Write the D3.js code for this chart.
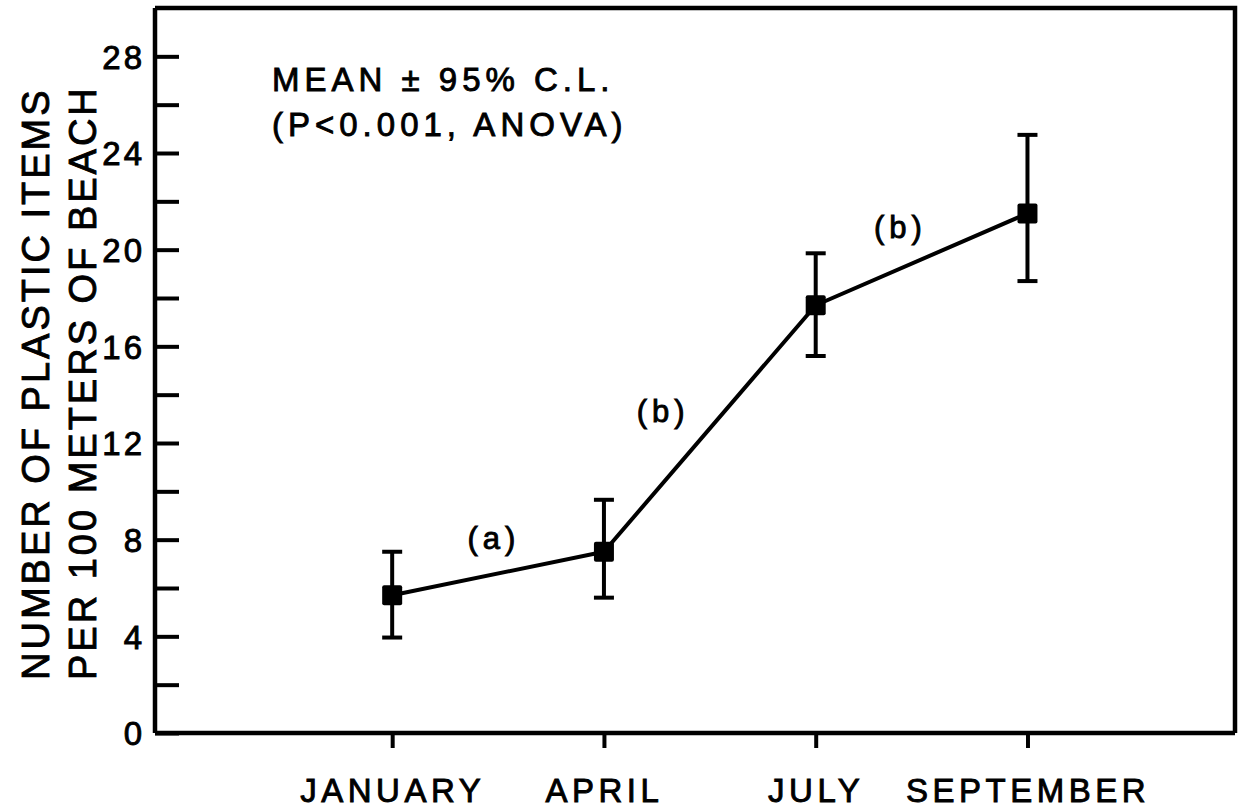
<!DOCTYPE html>
<html>
<head>
<meta charset="utf-8">
<script src="https://cdn.jsdelivr.net/npm/d3@7"></script>
<style>
  html, body { margin: 0; padding: 0; background: #fff; }
  svg { display: block; }
  text { font-family: "Liberation Sans", Arial, Helvetica, sans-serif; fill: #000; stroke: #000; stroke-width: 0.9px; }
</style>
</head>
<body>
<svg id="chart" width="1239" height="811"></svg>
<script>
// ---- data ----
const months = ["JANUARY", "APRIL", "JULY", "SEPTEMBER"];
const meanValues = [5.7, 7.5, 17.7, 21.5];
const lowerCL = [3.95, 5.6, 15.6, 18.7];
const upperCL = [7.5, 9.65, 19.85, 24.75];
const yMajorTicks = [0, 4, 8, 12, 16, 20, 24, 28];
const yMinorTicks = [2, 6, 10, 14, 18, 22, 26];
const groupLabels = ["(a)", "(b)", "(b)"];
const groupLabelX = [0.48, 1.28, 2.40];   // in month-index units
const groupLabelY = [7.6, 12.85, 20.5];   // in data units
const legendLines = ["MEAN \u00B1 95% C.L.", "(P<0.001, ANOVA)"];
const yTitleLines = ["NUMBER OF PLASTIC ITEMS", "PER 100 METERS OF BEACH"];

// ---- layout ----
const plotL = 155, plotR = 1235, plotT = 8, plotB = 733;
const svg = d3.select("#chart");

const x = d3.scaleLinear().domain([-1.12, 3.98]).range([plotL, plotR]);
const y = d3.scaleLinear().domain([0, 30]).range([plotB, plotT]);

// frame (top & right)
svg.append("path")
  .attr("d", `M${plotL},${plotT}H${plotR}V${plotB}`)
  .attr("fill", "none").attr("stroke", "#000").attr("stroke-width", 4.5);

// y axis
const yAxis = d3.axisLeft(y).tickValues(yMajorTicks).tickFormat(d3.format("d"))
  .tickSizeInner(-24).tickSizeOuter(0).tickPadding(10);
const gy = svg.append("g").attr("transform", `translate(${plotL},0)`).call(yAxis);
gy.select(".domain").attr("stroke-width", 4.5).attr("d", `M0,${plotT}V${plotB}`);
gy.selectAll(".tick line").attr("stroke-width", 4);
gy.selectAll(".tick text")
  .style("font-size", "33px").style("letter-spacing", "3px")
  .attr("dy", "0.36em");

const yAxisMinor = d3.axisLeft(y).tickValues(yMinorTicks).tickFormat("")
  .tickSizeInner(-24).tickSizeOuter(0);
const gym = svg.append("g").attr("transform", `translate(${plotL},0)`).call(yAxisMinor);
gym.select(".domain").remove();
gym.selectAll(".tick line").attr("stroke-width", 4);

// x axis
const xAxis = d3.axisBottom(x).tickValues(d3.range(months.length))
  .tickFormat(i => months[i]).tickSizeInner(15).tickSizeOuter(0).tickPadding(0);
const gx = svg.append("g").attr("transform", `translate(0,${plotB})`).call(xAxis);
gx.select(".domain").attr("stroke-width", 4.5).attr("d", `M${plotL},0H${plotR}`);
gx.selectAll(".tick line").attr("stroke-width", 4);
gx.selectAll(".tick text")
  .attr("y", 69).attr("dy", 0)
  .style("font-size", "33px").style("letter-spacing", "4.5px");

// connecting line
const line = d3.line().x((d, i) => x(i)).y(d => y(d));
svg.append("path").datum(meanValues)
  .attr("d", line).attr("fill", "none").attr("stroke", "#000")
  .attr("stroke-width", 4).attr("stroke-linejoin", "round");

// error bars
const capW = 10;
const eb = svg.append("g").attr("stroke", "#000").attr("stroke-width", 4).attr("fill", "none");
months.forEach((m, i) => {
  const cx = x(i);
  eb.append("line").attr("x1", cx).attr("x2", cx).attr("y1", y(lowerCL[i])).attr("y2", y(upperCL[i]));
  eb.append("line").attr("x1", cx - capW).attr("x2", cx + capW).attr("y1", y(lowerCL[i])).attr("y2", y(lowerCL[i]));
  eb.append("line").attr("x1", cx - capW).attr("x2", cx + capW).attr("y1", y(upperCL[i])).attr("y2", y(upperCL[i]));
});

// markers
const ms = 20;
svg.append("g").selectAll("rect").data(meanValues).join("rect")
  .attr("x", (d, i) => x(i) - ms / 2).attr("y", d => y(d) - ms / 2)
  .attr("width", ms).attr("height", ms).attr("rx", 2).attr("fill", "#000");

// group labels
svg.append("g").selectAll("text").data(groupLabels).join("text")
  .attr("x", (d, i) => x(groupLabelX[i])).attr("y", (d, i) => y(groupLabelY[i]))
  .attr("text-anchor", "middle")
  .style("font-size", "31px").style("letter-spacing", "5px")
  .text(d => d);

// legend text
svg.append("g").selectAll("text").data(legendLines).join("text")
  .attr("x", 272).attr("y", (d, i) => 91 + i * 45)
  .style("font-size", "33px").style("letter-spacing", "5px")
  .text(d => d);

// y title
svg.append("g").selectAll("text").data(yTitleLines).join("text")
  .attr("transform", (d, i) => `translate(${49 + i * 47},680) rotate(-90)`)
  .attr("text-anchor", "start")
  .style("font-size", "38px").style("letter-spacing", "3px")
  .text(d => d);
</script>
</body>
</html>
